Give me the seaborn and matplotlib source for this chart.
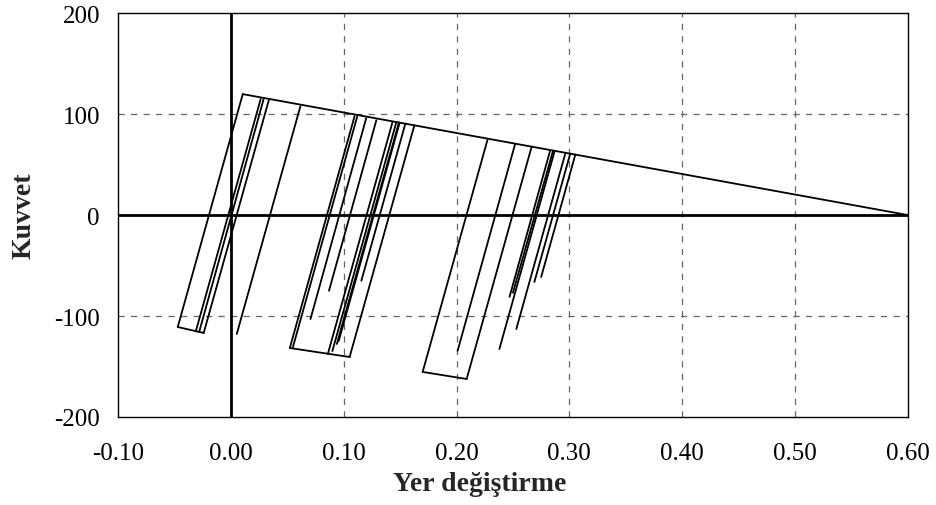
import pandas as pd
import matplotlib
matplotlib.use('Agg')
import matplotlib.pyplot as plt
import seaborn as sns

sns.set_style('white')
plt.rcParams['font.family'] = ['Liberation Serif', 'DejaVu Serif']

# segment end points (x = displacement, y = force)
seg_x0 = [0.0106, 0.0106, -0.047, -0.024, -0.031, -0.028, 0.0053,
          0.1097, 0.0523, 0.1053, 0.1120, 0.1200, 0.1290, 0.1434, 0.1467, 0.1490, 0.1496, 0.1547,
          0.2274, 0.1700, 0.2090, 0.2520, 0.2870, 0.2830, 0.2855, 0.2966, 0.3008, 0.3053]
seg_y0 = [119.8, 119.8, -110.9, -116.8, -115.2, -115.7, -117.8,
          98.0, -131.7, -140.6, 97.5, 96.0, 94.0, 92.5, 92.0, 91.7, 91.5, 90.6,
          74.3, -155.4, -162.4, 70.6, 63.6, 64.0, 63.5, 61.7, 60.9, 59.9]
seg_x1 = [0.600, -0.047, -0.024, 0.0337, 0.0265, 0.0290, 0.0617,
          0.0523, 0.1053, 0.1627, 0.0550, 0.0706, 0.0870, 0.0860, 0.0900, 0.0940, 0.0956, 0.1157,
          0.1700, 0.2090, 0.2666, 0.2010, 0.2380, 0.2470, 0.2500, 0.2530, 0.2690, 0.2750]
seg_y1 = [0.0, -110.9, -116.8, 113.9, 115.0, 114.5, 107.9,
          -131.7, -140.6, 89.0, -131.0, -103.0, -75.0, -137.6, -134.7, -127.7, -124.8, -65.0,
          -155.4, -162.4, 67.8, -134.4, -132.7, -81.0, -77.0, -112.9, -66.3, -61.4]

x_ticks = [-0.10, 0.00, 0.10, 0.20, 0.30, 0.40, 0.50, 0.60]
y_ticks = [-200, -100, 0, 100, 200]

rows = []
for i in range(len(seg_x0)):
    rows.append({'seg': i, 'x': seg_x0[i], 'y': seg_y0[i]})
    rows.append({'seg': i, 'x': seg_x1[i], 'y': seg_y1[i]})
df = pd.DataFrame(rows)

fig = plt.figure(figsize=(9.36, 5.06), dpi=100)
ax = fig.add_axes([0.126, 0.174, 0.844, 0.798])

for xv in x_ticks[2:-1]:
    ax.axvline(xv, color='#666666', lw=0.9, ls=(0, (5, 5)), zorder=1)
for yv in [-100, 100]:
    ax.axhline(yv, color='#666666', lw=0.9, ls=(0, (5, 5)), zorder=1)
ax.axhline(0, color='black', lw=2.0, zorder=2)
ax.axvline(0, color='black', lw=2.0, zorder=2)

sns.lineplot(data=df, x='x', y='y', units='seg', estimator=None, sort=False,
             color='black', lw=1.3, ax=ax, zorder=3)

ax.set_xlim(-0.10, 0.60)
ax.set_ylim(-200, 200)
ax.set_xticks(x_ticks)
ax.set_xticklabels([f'{v:.2f}' for v in x_ticks])
ax.set_yticks(y_ticks)
ax.set_yticklabels([str(v) for v in y_ticks])
ax.tick_params(direction='out', length=6, width=1, colors='black', labelsize=18, pad=7)
ax.tick_params(axis='x', pad=12)
for s in ax.spines.values():
    s.set_color('black')
    s.set_linewidth(1.0)

ax.set_xlabel('Yer değiştirme', fontsize=20, fontweight='bold', labelpad=6)
ax.xaxis.set_label_coords(0.458, -0.135)
ax.set_ylabel('Kuvvet', fontsize=20, fontweight='bold', labelpad=13)

fig.savefig('out.png', dpi=100)
